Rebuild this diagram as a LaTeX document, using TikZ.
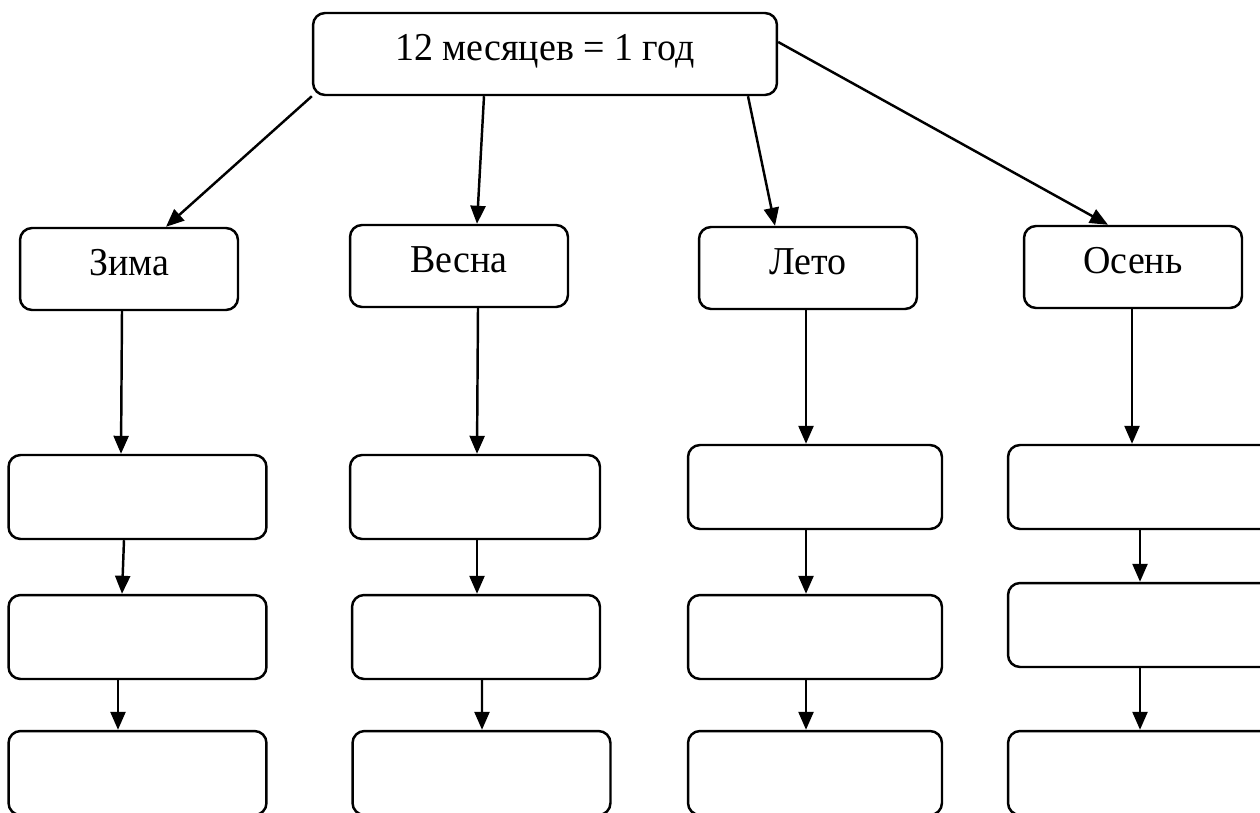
\documentclass[tikz,border=0pt]{standalone}
\usepackage{fontspec}
\setmainfont[FakeStretch=0.96]{Liberation Serif}
\usepackage{tikz}
\usetikzlibrary{arrows.meta,calc}

\begin{document}
\begin{tikzpicture}
		[x=0.02cm,y=-0.02cm,auto=center,
		every node/.style={draw,rounded corners=0.24cm,line width=1.4pt,inner sep=0pt,font=\fontsize{22.5}{26}\selectfont,text height=0.52cm,text depth=0.28cm},
		year/.style={minimum width=9.28cm,minimum height=1.64cm},
		season/.style={minimum width=4.36cm,minimum height=1.64cm},
		month/.style={minimum width=5.16cm,minimum height=1.68cm},
		edge/.style={line width=1.4pt,-{Triangle[length=0.36cm,width=0.3cm]}}]
		\useasboundingbox (0,0) rectangle (1260,812);
		\clip (0,0) rectangle (1260,812);
		\node[year] (god) at (545,54) {12 месяцев = 1 год};
		\node[season] (zima) at (129,269) {Зима};
		\node[season] (vesna) at (459,266) {Весна};
		\node[season] (leto) at (808,268) {Лето};
		\node[season] (osen) at (1133,267) {Осень};
		
		\node[month] (z1) at (137.5,497) {};
		\node[month] (z2) at (137.5,637) {};
		\node[month] (z3) at (137.5,773) {};
		\node[month,minimum width=5cm] (v1) at (475,497) {};
		\node[month,minimum width=4.96cm] (v2) at (476,637) {};
		\node[month] (v3) at (481.5,773) {};
		\node[month,minimum width=5.08cm] (l1) at (815,487) {};
		\node[month,minimum width=5.08cm] (l2) at (815,637) {};
		\node[month,minimum width=5.08cm] (l3) at (815,773) {};
		\node[month,minimum width=5.5cm] (o1) at (1145.5,487) {};
		\node[month,minimum width=5.5cm] (o2) at (1145.5,625) {};
		\node[month,minimum width=5.5cm] (o3) at (1145.5,773) {};
		
		\draw[edge] (god.south west) -- ($(zima.north)+(37,0)$);
		\draw[edge] ($(god.south)+(-61,0)$) -- ($(vesna.north)+(18,0)$);
		\draw[edge] ($(god.south)+(203,0)$) -- ($(leto.north)+(-33,0)$);
		\draw[edge] ($(god.east)+(0,-12)$) -- ($(osen.north)+(-25,0)$);
		
		\foreach \from/\fx/\to/\tx in {zima/-7/z1/-16.5,z1/-13.5/z2/-15.5,z2/-19.5/z3/-19.5,
			vesna/19/v1/2,v1/2/v2/1,v2/6/v3/0.5,
			leto/-2/l1/-9,l1/-9/l2/-9,l2/-9/l3/-9,
			osen/-1/o1/-13.5,o1/-5.5/o2/-5.5,o2/-5.5/o3/-5.5}
		\draw[edge] ($(\from.south)+(\fx,0)$) -- ($(\to.north)+(\tx,0)$);
		\end{tikzpicture}
\end{document}
